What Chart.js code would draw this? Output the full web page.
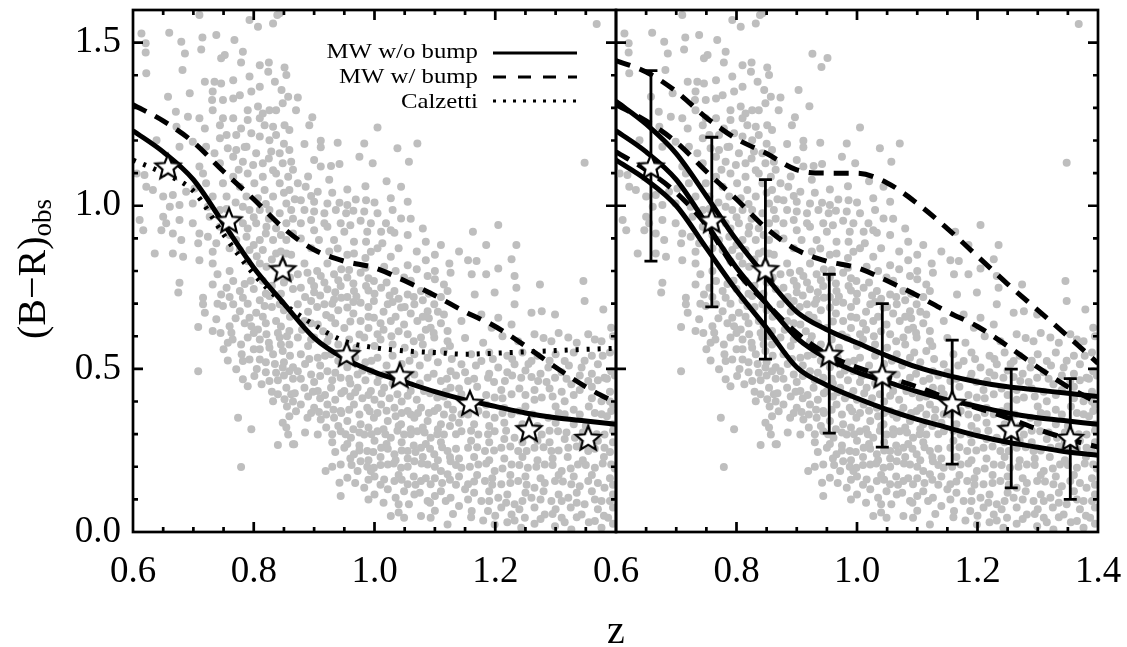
<!DOCTYPE html>
<html><head><meta charset="utf-8">
<script src="https://cdn.jsdelivr.net/npm/chart.js@4.4.1/dist/chart.umd.min.js"></script>
<style>
html,body{margin:0;padding:0;background:#fff;width:1127px;height:647px;overflow:hidden;}
#wrap{position:relative;width:1127px;height:647px;background:#fff;}
canvas{position:absolute;top:0;}
#cL{left:0;width:640px;height:647px;}
#cR{left:560px;width:567px;height:647px;}
</style></head><body>
<div id="wrap"><canvas id="cL" width="640" height="647"></canvas><canvas id="cR" width="567" height="647"></canvas></div>
<script>
// ---------- data ----------
const zGrid      = [0.6,0.65,0.7,0.75,0.8,0.85,0.9,0.95,1.0,1.05,1.1,1.15,1.2,1.25,1.3,1.35,1.4];
const mwNoBump   = [1.23,1.165,1.08,0.945,0.81,0.70,0.595,0.532,0.49,0.46,0.43,0.405,0.385,0.365,0.35,0.34,0.33];
const mwBump     = [1.31,1.26,1.195,1.105,1.02,0.93,0.865,0.83,0.81,0.77,0.725,0.675,0.63,0.57,0.505,0.445,0.395];
const calzetti   = [1.14,1.10,1.045,0.912,0.79,0.70,0.635,0.585,0.565,0.555,0.55,0.545,0.548,0.552,0.556,0.56,0.563];
const mwNoBumpHi = [1.32,1.25,1.16,1.03,0.895,0.78,0.675,0.62,0.58,0.54,0.505,0.48,0.46,0.445,0.435,0.425,0.415];
const mwNoBumpLo = [1.14,1.08,1.00,0.87,0.74,0.625,0.505,0.45,0.41,0.375,0.345,0.32,0.295,0.275,0.26,0.245,0.235];
const mwBumpHi   = [1.445,1.41,1.35,1.27,1.205,1.16,1.11,1.10,1.10,1.07,1.007,0.93,0.845,0.76,0.68,0.60,0.517];
const mwBumpLo   = [1.165,1.11,1.04,0.94,0.80,0.70,0.61,0.545,0.505,0.475,0.445,0.41,0.38,0.35,0.315,0.285,0.26];
const starZ      = [0.658,0.759,0.848,0.954,1.042,1.158,1.256,1.354];
const starColor  = [1.12,0.955,0.805,0.545,0.48,0.395,0.315,0.288];
const errHi      = [1.414,1.21,1.08,0.79,0.70,0.588,0.499,0.47];
const errLo      = [0.83,0.69,0.53,0.303,0.26,0.208,0.135,0.10];
const xMajor     = [0.6,0.8,1.0,1.2,1.4];
const yMajor     = [0.0,0.5,1.0,1.5];
const legendLabels = ['MW w/o bump','MW w/ bump','Calzetti'];
const galaxies = [
[0.710,1.585],[0.793,1.569],[0.807,1.549],[0.832,1.559],[0.843,1.590],[0.614,1.528],[0.660,1.530],[0.680,1.503],[0.715,1.516],[0.738,1.523],[0.768,1.508],[0.782,1.472],[0.621,1.498],[0.621,1.470],[0.686,1.467],[0.713,1.479],[0.746,1.452],[0.752,1.462],[0.779,1.439],[0.810,1.431],[0.825,1.439],[0.851,1.424],[0.854,1.401],[0.622,1.406],[0.682,1.416],[0.719,1.380],[0.735,1.380],[0.746,1.375],[0.766,1.385],[0.793,1.396],[0.810,1.365],[0.824,1.411],[0.835,1.380],[0.846,1.355],[0.857,1.334],[0.658,1.334],[0.694,1.345],[0.732,1.350],[0.731,1.324],[0.749,1.324],[0.766,1.329],[0.777,1.339],[0.790,1.293],[0.796,1.350],[0.807,1.304],[0.815,1.283],[0.826,1.293],[0.837,1.293],[0.848,1.314],[0.671,1.288],[0.691,1.273],[0.710,1.268],[0.732,1.293],[0.749,1.268],[0.766,1.268],[0.779,1.237],[0.790,1.263],[0.810,1.268],[0.818,1.247],[0.832,1.242],[0.851,1.247],[0.672,1.242],[0.719,1.237],[0.744,1.247],[0.755,1.217],[0.771,1.217],[0.796,1.222],[0.810,1.212],[0.826,1.201],[0.837,1.217],[0.859,1.232],[0.677,1.181],[0.699,1.196],[0.721,1.181],[0.744,1.207],[0.757,1.176],[0.771,1.171],[0.788,1.181],[0.804,1.161],[0.829,1.166],[0.843,1.161],[0.859,1.171],[0.639,1.201],[0.735,1.161],[0.744,1.130],[0.766,1.150],[0.782,1.135],[0.799,1.125],[0.815,1.130],[0.832,1.109],[0.848,1.130],[0.862,1.135],[0.710,1.120],[0.716,1.099],[0.721,1.069],[0.702,1.053],[0.688,1.043],[0.666,1.033],[0.650,1.028],[0.633,1.048],[0.622,1.058],[0.619,1.094],[0.606,1.099],[0.766,1.089],[0.790,1.099],[0.815,1.089],[0.837,1.099],[0.857,1.089],[0.749,1.069],[0.777,1.058],[0.801,1.069],[0.818,1.048],[0.843,1.069],[0.859,1.048],[0.732,1.028],[0.755,1.028],[0.788,1.028],[0.807,1.023],[0.832,1.028],[0.854,1.007],[0.661,0.997],[0.677,1.002],[0.699,1.007],[0.724,0.997],[0.744,0.987],[0.782,0.997],[0.793,0.987],[0.810,0.987],[0.826,0.987],[0.843,0.977],[0.862,0.987],[0.611,0.956],[0.650,0.966],[0.655,0.946],[0.677,0.956],[0.699,0.946],[0.727,0.966],[0.744,0.936],[0.782,0.946],[0.804,0.946],[0.821,0.936],[0.837,0.931],[0.854,0.946],[0.647,0.925],[0.666,0.915],[0.710,0.915],[0.724,0.905],[0.738,0.885],[0.771,0.895],[0.788,0.905],[0.810,0.895],[0.832,0.895],[0.854,0.895],[0.617,0.925],[0.680,0.895],[0.708,0.885],[0.732,0.859],[0.777,0.864],[0.793,0.864],[0.815,0.864],[0.837,0.854],[0.854,0.854],[0.636,0.854],[0.666,0.854],[0.683,0.844],[0.710,0.833],[0.732,0.823],[0.810,0.823],[0.821,0.813],[0.848,0.823],
[0.873,1.332],[0.870,1.293],[0.897,1.271],[0.892,1.247],[1.005,1.240],[0.884,1.189],[0.911,1.199],[0.911,1.179],[0.939,1.193],[0.983,1.191],[1.038,1.176],[1.071,1.191],[0.975,1.150],[0.997,1.130],[1.057,1.135],[0.900,1.140],[0.911,1.120],[0.928,1.122],[0.942,1.128],[0.873,1.069],[0.886,1.058],[0.906,1.043],[1.044,1.058],[0.878,1.017],[0.900,1.012],[0.922,1.007],[0.942,1.009],[0.955,1.002],[0.969,1.019],[0.986,1.017],[1.027,1.023],[1.055,1.012],[0.884,0.987],[0.900,0.982],[0.917,0.977],[0.936,0.987],[0.953,0.977],[0.983,0.982],[1.005,0.977],[1.030,0.987],[1.044,0.961],[0.878,0.946],[0.895,0.956],[0.917,0.946],[0.944,0.946],[0.977,0.954],[0.994,0.946],[1.019,0.946],[1.027,0.925],[0.900,0.925],[0.922,0.936],[0.950,0.920],[0.988,0.920],[1.011,0.920],[1.033,0.917],[1.055,0.910],[1.085,0.890],[0.878,0.900],[0.908,0.895],[0.933,0.895],[0.966,0.890],[0.986,0.890],[1.013,0.885],[0.939,0.869],[0.966,0.854],[0.994,0.859],[1.027,0.844],[0.884,0.823],[0.922,0.823],[0.958,0.803],[1.016,0.813],[1.055,0.818],[1.085,0.833],[1.124,0.823],
[0.926,1.466],[0.951,1.453],[0.941,1.425],[0.921,1.305],[0.903,1.355],[0.839,1.585],
[1.368,1.557],[1.348,1.132],[1.163,0.920],[1.205,0.941],[1.185,0.880],[1.235,0.880],[1.155,0.833],[1.169,0.831],[1.227,0.836],[1.205,0.808],
[0.677,0.764],[0.675,0.734],[0.716,0.718],[0.716,0.698],[0.719,0.672],[0.732,0.759],[0.746,0.728],[0.755,0.749],[0.766,0.769],[0.777,0.739],[0.782,0.718],[0.766,0.698],[0.777,0.677],[0.749,0.693],[0.738,0.652],[0.732,0.616],[0.708,0.628],[0.760,0.631],[0.763,0.611],[0.757,0.580],[0.779,0.575],[0.790,0.596],[0.796,0.631],[0.793,0.657],[0.804,0.672],[0.807,0.621],[0.810,0.590],[0.821,0.606],[0.818,0.693],[0.826,0.723],[0.843,0.698],[0.837,0.647],[0.826,0.565],[0.832,0.545],[0.843,0.596],[0.848,0.555],[0.859,0.616],[0.859,0.575],[0.810,0.529],[0.793,0.529],[0.782,0.524],[0.757,0.526],[0.771,0.499],[0.782,0.468],[0.790,0.447],[0.801,0.478],[0.813,0.453],[0.826,0.463],[0.837,0.488],[0.848,0.504],[0.859,0.493],[0.854,0.442],[0.840,0.422],[0.832,0.401],[0.851,0.407],[0.862,0.422],[0.859,0.355],[0.708,0.493],[0.774,0.350],[0.796,0.315],[0.848,0.335],[0.854,0.320],[0.857,0.299],[0.840,0.267],[0.865,0.269],[0.779,0.199],
[0.785,0.760],[0.800,0.745],[0.815,0.770],[0.830,0.755],[0.850,0.765],[0.865,0.745],[0.790,0.700],[0.810,0.710],[0.850,0.680],[0.860,0.660],[0.845,0.630],[0.820,0.640],[0.810,0.560],[0.825,0.580],[0.845,0.575],[0.860,0.540],[0.835,0.515],[0.850,0.520],[0.865,0.505],[0.820,0.490],[0.840,0.465],[0.865,0.470],[0.855,0.385],[0.865,0.400],
[0.873,0.790],[0.889,0.795],[0.911,0.785],[0.933,0.790],[0.955,0.780],[0.977,0.795],[0.999,0.769],[1.049,0.780],[1.088,0.785],[1.115,0.759],[1.126,0.795],[0.878,0.749],[0.900,0.754],[0.922,0.744],[0.944,0.754],[0.966,0.739],[0.986,0.754],[1.011,0.749],[1.033,0.739],[1.055,0.728],[1.077,0.739],[1.099,0.698],[1.121,0.739],[0.873,0.698],[0.895,0.708],[0.917,0.698],[0.933,0.713],[0.955,0.688],[0.977,0.703],[0.999,0.708],[1.022,0.698],[1.044,0.688],[1.066,0.698],[1.088,0.677],[1.115,0.667],[0.884,0.647],[0.906,0.636],[0.928,0.657],[0.977,0.647],[0.999,0.657],[1.027,0.647],[1.049,0.636],[1.071,0.647],[1.093,0.626],[1.121,0.616],[0.873,0.596],[0.900,0.596],[0.922,0.585],[0.983,0.596],[1.005,0.606],[1.055,0.606],[1.077,0.596],[1.099,0.596],[1.121,0.585],[0.878,0.545],[0.906,0.534],[0.928,0.545],[1.005,0.534],[1.066,0.545],[1.088,0.534],[1.115,0.555],[0.873,0.493],[0.895,0.483],[0.922,0.493],[0.944,0.473],[0.972,0.483],[0.994,0.493],[1.016,0.483],[1.066,0.483],[1.088,0.473],[1.110,0.463],[1.126,0.493],[0.884,0.442],[0.906,0.432],[0.928,0.442],[0.950,0.432],[0.972,0.442],[0.994,0.432],[1.016,0.442],[1.038,0.422],[1.060,0.432],[1.082,0.432],[1.104,0.412],[1.126,0.442],[0.878,0.391],[0.900,0.381],[0.922,0.391],[0.944,0.371],[0.966,0.391],[0.988,0.381],[1.011,0.391],[1.033,0.381],[1.055,0.371],[1.077,0.381],[1.099,0.371],[1.121,0.391],[0.889,0.350],[0.911,0.345],[0.933,0.350],[0.955,0.340],[0.977,0.330],[0.999,0.350],[1.022,0.340],[1.044,0.330],[1.066,0.350],[1.088,0.340],[1.110,0.330],[1.129,0.350],[0.867,0.269],[0.906,0.299],[0.944,0.309],[0.961,0.289],[0.983,0.299],[1.005,0.309],[1.027,0.289],[1.049,0.299],[1.071,0.309],[1.093,0.289],[1.115,0.299],[0.950,0.258],[0.966,0.238],[0.988,0.248],[1.011,0.258],[1.033,0.238],[1.055,0.248],[1.077,0.258],[1.099,0.238],[1.121,0.248],[0.944,0.207],[0.977,0.217],[0.999,0.197],[1.022,0.207],[1.044,0.197],[1.066,0.217],[1.088,0.207],[1.110,0.187],[1.126,0.217],[0.919,0.187],[0.942,0.151],[0.955,0.166],[0.972,0.187],[0.994,0.187],[1.016,0.161],[1.033,0.156],[1.055,0.146],[1.077,0.156],[1.093,0.146],[1.121,0.177],[0.944,0.110],[0.983,0.136],[1.022,0.131],[1.049,0.125],[1.066,0.115],[1.088,0.095],[1.110,0.125],[1.126,0.105],[1.057,0.085],[1.077,0.049],[1.027,0.049],[1.049,0.044],[1.093,0.044],[1.121,0.023],
[0.895,0.770],[0.917,0.765],[0.940,0.772],[0.965,0.762],[0.990,0.778],[1.020,0.765],[1.060,0.770],[1.100,0.775],[0.885,0.720],[0.910,0.725],[0.945,0.718],[0.970,0.722],[1.000,0.730],[1.040,0.715],[1.065,0.720],[0.890,0.675],[0.920,0.665],[0.940,0.680],[0.965,0.670],[0.990,0.660],[1.015,0.675],[1.060,0.670],[1.090,0.655],[0.880,0.620],[0.915,0.615],[0.950,0.625],[0.990,0.625],[1.015,0.620],[1.040,0.615],[1.085,0.620],[1.110,0.640],[0.890,0.570],[0.940,0.575],[0.970,0.565],[1.000,0.570],[1.030,0.575],[1.050,0.565],[1.080,0.575],[1.125,0.570],[0.885,0.515],[0.910,0.510],[0.955,0.505],[0.985,0.520],[1.020,0.510],[1.045,0.515],[1.075,0.510],[1.105,0.520],[0.900,0.460],[0.930,0.465],[0.960,0.455],[0.985,0.465],[1.005,0.460],[1.030,0.455],[1.075,0.455],[1.120,0.470],[0.890,0.415],[0.910,0.410],[0.935,0.405],[0.960,0.415],[0.980,0.410],[1.000,0.405],[1.025,0.410],[1.045,0.400],[1.070,0.405],[1.115,0.415],[0.895,0.365],[0.920,0.360],[0.945,0.365],[0.975,0.360],[1.005,0.365],[1.035,0.355],[1.060,0.360],[1.090,0.365],[1.115,0.360],[0.920,0.320],[0.940,0.325],[0.965,0.315],[0.990,0.320],[1.015,0.315],[1.040,0.325],[1.060,0.315],[1.080,0.320],[1.105,0.315],[1.125,0.325],[0.930,0.275],[0.955,0.270],[0.975,0.265],[1.000,0.280],[1.020,0.270],[1.045,0.275],[1.065,0.265],[1.085,0.270],[1.110,0.275],[0.960,0.225],[0.990,0.220],[1.010,0.230],[1.035,0.220],[1.055,0.225],[1.080,0.230],[1.105,0.220],[1.125,0.230],[1.000,0.170],[1.040,0.175],[1.065,0.170],[1.100,0.165],[1.125,0.160],[1.000,0.115],[1.035,0.105],[1.075,0.120],[1.100,0.110],
[1.161,0.790],[1.185,0.790],[1.232,0.785],[1.235,0.749],[1.274,0.759],[1.346,0.769],[1.348,0.708],[1.166,0.728],[1.199,0.734],[1.232,0.698],[1.260,0.672],[1.277,0.677],[1.299,0.667],[1.144,0.647],[1.177,0.667],[1.205,0.657],[1.227,0.636],[1.194,0.626],[1.265,0.606],[1.293,0.585],[1.321,0.596],[1.354,0.606],[1.376,0.585],[1.392,0.626],[1.379,0.682],[1.144,0.514],[1.177,0.524],[1.205,0.504],[1.232,0.514],[1.260,0.524],[1.288,0.504],[1.315,0.524],[1.343,0.504],[1.370,0.514],[1.392,0.493],[1.155,0.463],[1.188,0.473],[1.216,0.463],[1.243,0.473],[1.271,0.463],[1.299,0.473],[1.326,0.453],[1.354,0.463],[1.381,0.473],[1.144,0.422],[1.199,0.412],[1.227,0.422],[1.277,0.412],[1.315,0.401],[1.376,0.401],[1.144,0.361],[1.172,0.371],[1.199,0.350],[1.227,0.361],[1.288,0.350],[1.315,0.361],[1.376,0.361],[1.392,0.371],[1.144,0.309],[1.172,0.299],[1.199,0.309],[1.232,0.289],[1.277,0.299],[1.304,0.309],[1.332,0.289],[1.381,0.299],[1.155,0.258],[1.183,0.248],[1.210,0.258],[1.238,0.248],[1.265,0.258],[1.293,0.248],[1.321,0.258],[1.354,0.248],[1.381,0.258],[1.144,0.197],[1.172,0.207],[1.199,0.187],[1.227,0.207],[1.254,0.197],[1.282,0.207],[1.310,0.187],[1.337,0.207],[1.365,0.197],[1.392,0.207],[1.155,0.146],[1.183,0.156],[1.210,0.146],[1.238,0.156],[1.265,0.136],[1.299,0.156],[1.326,0.146],[1.354,0.156],[1.381,0.136],[1.150,0.131],[1.177,0.095],[1.205,0.105],[1.232,0.085],[1.260,0.105],[1.293,0.095],[1.321,0.105],[1.348,0.085],[1.376,0.095],[1.161,0.064],[1.188,0.064],[1.227,0.054],[1.249,0.044],[1.282,0.054],[1.310,0.044],[1.343,0.054],[1.365,0.034],[1.387,0.044],[1.199,0.023],[1.243,0.013],[1.299,0.018],[1.326,0.008],[1.376,0.013],
[1.160,0.545],[1.190,0.550],[1.220,0.540],[1.245,0.550],[1.270,0.540],[1.300,0.545],[1.330,0.550],[1.360,0.540],[1.390,0.550],[1.150,0.490],[1.190,0.485],[1.220,0.490],[1.250,0.495],[1.275,0.485],[1.310,0.490],[1.360,0.485],[1.385,0.470],[1.140,0.440],[1.170,0.445],[1.210,0.435],[1.240,0.440],[1.265,0.435],[1.290,0.440],[1.310,0.430],[1.340,0.435],[1.360,0.445],[1.390,0.430],[1.160,0.385],[1.185,0.390],[1.215,0.380],[1.250,0.385],[1.300,0.385],[1.330,0.375],[1.355,0.385],[1.395,0.390],[1.140,0.335],[1.165,0.330],[1.190,0.325],[1.215,0.335],[1.245,0.330],[1.270,0.325],[1.300,0.335],[1.330,0.330],[1.350,0.325],[1.395,0.330],[1.160,0.280],[1.190,0.275],[1.215,0.285],[1.245,0.275],[1.270,0.280],[1.290,0.275],[1.315,0.285],[1.345,0.275],[1.370,0.280],[1.395,0.275],[1.140,0.225],[1.165,0.230],[1.190,0.220],[1.215,0.225],[1.245,0.230],[1.270,0.220],[1.295,0.225],[1.320,0.230],[1.345,0.220],[1.380,0.230],[1.140,0.170],[1.170,0.175],[1.195,0.165],[1.225,0.175],[1.250,0.170],[1.275,0.165],[1.305,0.175],[1.330,0.170],[1.360,0.175],[1.390,0.165],[1.165,0.120],[1.190,0.125],[1.220,0.115],[1.250,0.120],[1.280,0.125],[1.305,0.115],[1.335,0.120],[1.360,0.125],[1.395,0.115],[1.140,0.080],[1.210,0.075],[1.240,0.070],[1.265,0.075],[1.300,0.070],[1.325,0.075],[1.370,0.070],[1.395,0.075],[1.180,0.035],[1.220,0.030],[1.265,0.025],[1.315,0.030],[1.355,0.030],[1.395,0.025],
[0.895,0.590],[0.925,0.600],[0.958,0.590],[0.975,0.605],[1.010,0.590],[1.028,0.600],[1.065,0.585],[1.098,0.610],[1.150,0.595],[1.180,0.580],[1.212,0.600],[1.238,0.585],[1.280,0.595],[1.305,0.610],[1.335,0.580],[1.365,0.590],[1.395,0.600],
[0.892,0.530],[0.918,0.540],[0.940,0.525],[0.968,0.535],[0.995,0.525],[1.030,0.540],[1.058,0.525],[1.095,0.550],[1.128,0.530],[1.168,0.510],[1.196,0.530],[1.228,0.530],[1.255,0.515],[1.290,0.525],[1.322,0.510],[1.348,0.525],[1.378,0.540],
[0.878,0.470],[0.910,0.478],[0.935,0.488],[0.958,0.470],[0.980,0.495],[1.008,0.478],[1.040,0.490],[1.052,0.470],[1.098,0.485],[1.135,0.480],[1.165,0.470],[1.198,0.460],[1.228,0.480],[1.260,0.475],[1.285,0.460],[1.318,0.470],[1.340,0.480],[1.370,0.465],[1.398,0.480],
[0.868,0.425],[0.898,0.430],[0.918,0.420],[0.945,0.425],[0.968,0.428],[0.990,0.420],[1.012,0.425],[1.055,0.418],[1.092,0.425],[1.118,0.430],[1.158,0.410],[1.185,0.420],[1.212,0.410],[1.250,0.420],[1.265,0.405],[1.295,0.415],[1.330,0.420],[1.360,0.410],[1.390,0.400],
[0.870,0.370],[0.908,0.368],[0.932,0.375],[0.958,0.375],[0.992,0.370],[1.020,0.372],[1.045,0.365],[1.072,0.365],[1.105,0.380],[1.130,0.375],[1.155,0.360],[1.185,0.360],[1.212,0.365],[1.240,0.370],[1.262,0.360],[1.305,0.365],[1.340,0.360],[1.365,0.365],[1.385,0.355],
[0.885,0.305],[0.930,0.300],[0.952,0.300],[0.975,0.305],[0.995,0.300],[1.018,0.300],[1.038,0.310],[1.060,0.300],[1.083,0.305],[1.104,0.300],[1.135,0.300],[1.160,0.310],[1.188,0.300],[1.218,0.310],[1.250,0.305],[1.290,0.310],[1.318,0.305],[1.345,0.305],[1.368,0.300],[1.395,0.310],
[0.935,0.245],[0.975,0.250],[0.998,0.245],[1.022,0.255],[1.045,0.250],[1.068,0.245],[1.092,0.255],[1.112,0.260],[1.135,0.255],[1.170,0.260],[1.198,0.250],[1.225,0.262],[1.252,0.248],[1.280,0.260],[1.305,0.250],[1.335,0.262],[1.365,0.255],[1.390,0.245],
[0.930,0.200],[0.962,0.205],[0.988,0.200],[1.010,0.205],[1.032,0.210],[1.055,0.200],[1.078,0.210],[1.100,0.200],[1.135,0.205],[1.158,0.200],[1.185,0.210],[1.212,0.195],[1.240,0.205],[1.268,0.200],[1.295,0.205],[1.325,0.195],[1.350,0.205],[1.378,0.210],[1.398,0.195],
[0.968,0.150],[0.990,0.160],[1.010,0.145],[1.045,0.160],[1.068,0.145],[1.085,0.165],[1.112,0.150],[1.135,0.145],[1.165,0.155],[1.195,0.145],[1.225,0.150],[1.252,0.145],[1.282,0.150],[1.312,0.155],[1.340,0.140],[1.370,0.150],[1.395,0.145],
[0.990,0.100],[1.015,0.090],[1.040,0.085],[1.092,0.090],[1.118,0.095],[1.155,0.100],[1.190,0.095],[1.218,0.090],[1.245,0.095],[1.275,0.100],[1.310,0.095],[1.335,0.090],[1.365,0.100],[1.390,0.095],
[1.040,0.060],[1.100,0.065],[1.130,0.055],[1.160,0.045],[1.200,0.050],[1.232,0.035],[1.275,0.040],[1.295,0.055],[1.335,0.045],[1.380,0.050],
[0.895,0.640],[0.935,0.640],[0.960,0.645],[1.010,0.640],[1.035,0.660],[1.080,0.660],[1.105,0.675],[0.905,0.690],[0.930,0.700],[0.965,0.705],[0.990,0.690],[1.030,0.705],[1.050,0.690],[1.080,0.710],[0.900,0.735],[0.935,0.735],[0.955,0.720],[0.990,0.740],[1.025,0.725],[1.090,0.730],[1.110,0.720],[0.905,0.800],[0.945,0.805],[0.985,0.810],[1.035,0.800],[1.070,0.805],[1.100,0.800],
[0.745,0.610],[0.770,0.655],[0.785,0.640],[0.800,0.610],[0.815,0.660],[0.830,0.690],[0.840,0.610],[0.855,0.600],[0.800,0.560],[0.780,0.545],[0.820,0.520],[0.850,0.480],[0.805,0.500],[0.830,0.430],[0.750,0.560],[0.765,0.590],[0.740,0.700],[0.760,0.720],[0.795,0.770],[0.820,0.730],[0.845,0.730],[0.860,0.780],[0.740,0.790],[0.760,0.800],[0.790,0.830],[0.805,0.845],[0.830,0.835],[0.845,0.860],[0.862,0.850],[0.760,0.870],[0.800,0.880],[0.820,0.915],[0.845,0.910],[0.865,0.915],[0.760,0.910],[0.790,0.930],[0.760,0.955],[0.800,0.965],[0.825,0.960],[0.865,0.960],[0.755,0.990],[0.770,1.010],[0.820,1.005],[0.850,1.040],[0.868,1.020],[0.775,1.110],[0.825,1.145],[0.865,1.110],[0.785,1.180],[0.850,1.190],
[0.895,0.870],[0.925,0.860],[0.955,0.850],[0.985,0.840],[1.005,0.870],[1.040,0.870],[1.070,0.860],[1.100,0.850],[0.890,1.090],[0.925,1.080],[0.955,1.050],[0.985,1.060],[1.020,1.075],[0.895,1.030],[0.930,1.040],[0.965,0.985],[0.960,0.940],[1.000,1.010],[1.060,0.960],[1.080,0.930],[1.110,0.880],[1.140,0.860]
];

// ---------- helpers ----------
const FONT = '"Liberation Serif", "Times New Roman", serif';
const isMajor = (v, list) => list.some(t => Math.abs(t - v) < 1e-6);

function makeStar(R, r) {
  const s = Math.ceil(R * 2 + 6);
  const c = document.createElement('canvas'); c.width = s; c.height = s;
  const g = c.getContext('2d');
  g.translate(s / 2, s / 2 + 1);
  g.beginPath();
  for (let i = 0; i < 10; i++) {
    const rad = i % 2 ? r : R, a = -Math.PI / 2 + i * Math.PI / 5;
    g.lineTo(rad * Math.cos(a), rad * Math.sin(a));
  }
  g.closePath();
  g.fillStyle = '#fff'; g.fill();
  g.lineWidth = 2.2; g.strokeStyle = '#000'; g.lineJoin = 'miter'; g.stroke();
  return c;
}
const starImg = makeStar(13, 5.8);

const pts = (xs, ys) => xs.map((x, i) => ({x: x, y: ys[i]}));
function lineDS(vals, dash, width) {
  return {type: 'scatter', showLine: true, data: pts(zGrid, vals), borderColor: '#000',
    borderWidth: width, borderDash: dash, pointRadius: 0, pointHoverRadius: 0,
    fill: false, cubicInterpolationMode: 'monotone', clip: 0};
}
const scatterDS = () => ({type: 'scatter', data: galaxies.map(p => ({x: p[0], y: p[1]})),
  pointRadius: 4, pointBorderWidth: 0, pointBackgroundColor: '#bebebe', borderWidth: 0, clip: 0});
const starDS = () => ({type: 'scatter', data: pts(starZ, starColor), pointStyle: starImg,
  pointRadius: 13, clip: false});

// ---------- plugins ----------
const framePlugin = {
  id: 'frame',
  afterDraw(chart, args, opts) {
    const {ctx, chartArea: a, scales: {x, y}} = chart;
    ctx.save();
    ctx.strokeStyle = '#000'; ctx.lineWidth = 2.7; ctx.lineCap = 'butt';
    ctx.beginPath();
    x.ticks.forEach(t => {
      const px = x.getPixelForValue(t.value);
      if (px <= a.left + 1 || px >= a.right - 1) return;
      const L = isMajor(t.value, xMajor) ? 10 : 5;
      ctx.moveTo(px, a.bottom); ctx.lineTo(px, a.bottom - L);
      ctx.moveTo(px, a.top); ctx.lineTo(px, a.top + L);
    });
    y.ticks.forEach(t => {
      const py = y.getPixelForValue(t.value);
      if (py <= a.top + 1 || py >= a.bottom - 1) return;
      const maj = isMajor(t.value, yMajor), L = maj ? 10 : 5;
      if (opts.leftMinor || maj) { ctx.moveTo(a.left, py); ctx.lineTo(a.left + L, py); }
      ctx.moveTo(a.right, py); ctx.lineTo(a.right - L, py);
    });
    ctx.stroke();
    ctx.strokeRect(a.left, a.top, a.right - a.left, a.bottom - a.top);
    ctx.restore();
  }
};

const errPlugin = {
  id: 'errbars',
  beforeDatasetDraw(chart, args) {
    if (args.index !== 0) return;
    const {ctx, scales: {x, y}} = chart;
    ctx.save();
    ctx.strokeStyle = '#000'; ctx.lineWidth = 2.8;
    ctx.beginPath();
    starZ.forEach((z, i) => {
      const px = x.getPixelForValue(z), ph = y.getPixelForValue(errHi[i]), pl = y.getPixelForValue(errLo[i]);
      ctx.moveTo(px, ph); ctx.lineTo(px, pl);
      ctx.moveTo(px - 6.5, ph); ctx.lineTo(px + 6.5, ph);
      ctx.moveTo(px - 6.5, pl); ctx.lineTo(px + 6.5, pl);
    });
    ctx.stroke();
    ctx.restore();
  }
};

const legendPlugin = {
  id: 'legendBox',
  afterDatasetsDraw(chart) {
    const {ctx, chartArea: a} = chart;
    const dashes = [[], [13, 12], [3, 7]];
    ctx.save();
    ctx.fillStyle = '#fff';
    ctx.fillRect(a.right - 311, a.top + 22, 285, 81);
    ctx.fillStyle = '#000'; ctx.strokeStyle = '#000';
    ctx.font = '21px ' + FONT; ctx.textAlign = 'right'; ctx.textBaseline = 'alphabetic';
    legendLabels.forEach((lab, i) => {
      const ty = a.top + 48 + i * 25, ly = a.top + 43 + i * 24;
      ctx.save(); ctx.translate(a.right - 138, ty); ctx.scale(1.18, 1); ctx.fillText(lab, 0, 0); ctx.restore();
      ctx.beginPath(); ctx.lineWidth = 2.8; ctx.setLineDash(dashes[i]);
      ctx.moveTo(a.right - 123, ly); ctx.lineTo(a.right - 39, ly); ctx.stroke();
    });
    ctx.restore();
  }
};

const yTitlePlugin = {
  id: 'yTitle',
  afterDraw(chart) {
    const {ctx, chartArea: a} = chart;
    const main = '(B\u2212R)', sub = 'obs';
    ctx.save();
    ctx.fillStyle = '#000';
    ctx.font = '40px ' + FONT;
    const w1 = ctx.measureText(main).width;
    ctx.font = '27px ' + FONT;
    const w2 = ctx.measureText(sub).width;
    ctx.translate(45, (a.top + a.bottom) / 2 - 2);
    ctx.rotate(-Math.PI / 2);
    ctx.textAlign = 'left'; ctx.textBaseline = 'alphabetic';
    const x0 = -(w1 + w2) / 2;
    ctx.font = '40px ' + FONT; ctx.fillText(main, x0, 0);
    ctx.font = '27px ' + FONT; ctx.fillText(sub, x0 + w1, 6);
    ctx.restore();
  }
};

const xTitlePlugin = {
  id: 'xTitle',
  afterDraw(chart) {
    const {ctx, chartArea: a} = chart;
    ctx.save();
    ctx.fillStyle = '#000'; ctx.font = '40px ' + FONT;
    ctx.textAlign = 'center'; ctx.textBaseline = 'alphabetic';
    ctx.fillText('z', a.left, 643);
    ctx.restore();
  }
};

// ---------- chart options ----------
function options(isLeft) {
  return {
    responsive: false, animation: false, events: [],
    layout: {autoPadding: false, padding: isLeft ? {left: 0, right: 24, top: 10, bottom: 0} : {left: 56, right: 29, top: 10, bottom: 0}},
    plugins: {legend: {display: false}, tooltip: {enabled: false}, frame: {leftMinor: isLeft}},
    scales: {
      x: {type: 'linear', min: 0.6, max: 1.4,
        grid: {display: false, drawTicks: false}, border: {display: false},
        afterFit: s => { s.height = 115; s.paddingLeft = 0; s.paddingRight = 0; s.paddingTop = 0; s.paddingBottom = 0; },
        ticks: {stepSize: 0.05, autoSkip: false, maxRotation: 0, minRotation: 0, padding: 18, color: '#000',
          font: {family: FONT, size: 37},
          callback: v => {
            if (!isMajor(v, xMajor)) return '';
            if (isLeft && Math.abs(v - 1.4) < 1e-6) return '';
            return Number(v).toFixed(1);
          }}},
      y: {type: 'linear', min: 0, max: 1.6, display: isLeft,
        grid: {display: false, drawTicks: false}, border: {display: false},
        afterFit: s => { if (isLeft) s.width = 133; s.paddingTop = 0; s.paddingBottom = 0; s.paddingLeft = 0; s.paddingRight = 0; },
        ticks: {stepSize: 0.1, autoSkip: false, padding: 12, color: '#000',
          font: {family: FONT, size: 37},
          callback: v => isMajor(v, yMajor) ? Number(v).toFixed(1) : ''}}
    }
  };
}

new Chart(document.getElementById('cL'), {
  type: 'scatter',
  data: {datasets: [
    starDS(),
    lineDS(mwNoBump, [], 5),
    lineDS(mwBump, [15, 10], 5),
    lineDS(calzetti, [3, 8], 5),
    scatterDS()
  ]},
  options: options(true),
  plugins: [legendPlugin, framePlugin, yTitlePlugin]
});

new Chart(document.getElementById('cR'), {
  type: 'scatter',
  data: {datasets: [
    starDS(),
    lineDS(mwNoBumpHi, [], 5),
    lineDS(mwNoBump, [], 5),
    lineDS(mwNoBumpLo, [], 5),
    lineDS(mwBumpHi, [15, 10], 5),
    lineDS(mwBump, [15, 10], 5),
    lineDS(mwBumpLo, [15, 10], 5),
    scatterDS()
  ]},
  options: options(false),
  plugins: [errPlugin, framePlugin, xTitlePlugin]
});
</script>
</body></html>
